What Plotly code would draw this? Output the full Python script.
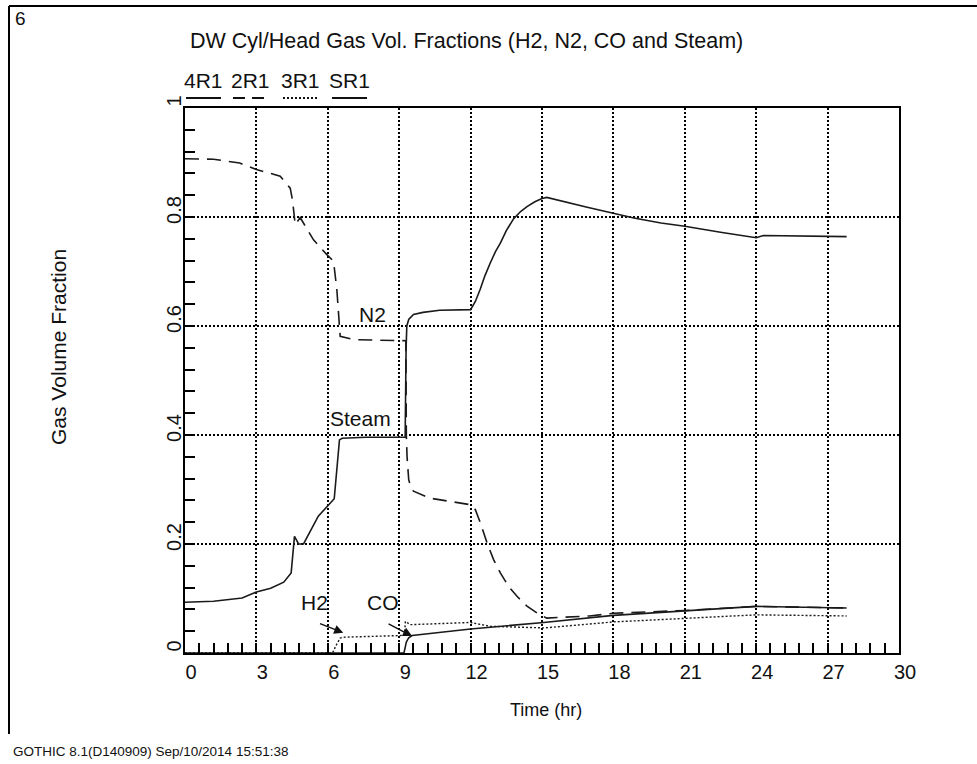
import plotly.graph_objects as go

# ---- GOTHIC results: gas volume fractions in the drywell cylinder/head ----
# Steam (4R1)
steam_time = [0.0, 1.2, 2.4, 3.0, 3.6, 4.15, 4.46, 4.6, 4.77, 4.98, 5.6, 6.27, 6.49, 6.6, 7.6,
              9.25, 9.29, 9.32, 9.4, 9.6, 10.0, 10.7, 12.0, 12.2, 12.4, 12.6, 12.83, 13.05, 13.25,
              13.5, 13.81, 14.1, 14.37, 14.7, 15.0, 15.2, 16.9, 18.0, 18.86, 20.0, 21.0, 22.5,
              24.0, 24.3, 27.8]
steam_frac = [0.093, 0.095, 0.101, 0.112, 0.119, 0.130, 0.147, 0.214, 0.200, 0.200, 0.251, 0.283,
              0.391, 0.394, 0.396, 0.396, 0.560, 0.600, 0.612, 0.621, 0.625, 0.629, 0.630, 0.645,
              0.667, 0.692, 0.716, 0.737, 0.752, 0.775, 0.797, 0.810, 0.819, 0.828, 0.834, 0.836,
              0.818, 0.806, 0.798, 0.789, 0.783, 0.772, 0.762, 0.766, 0.764]

# N2 (2R1)
n2_time = [0.0, 1.2, 2.3, 3.0, 4.0, 4.42, 4.52, 4.58, 4.63, 4.84, 5.4, 5.96, 6.24, 6.38, 6.45,
           6.52, 7.1, 9.2, 9.28, 9.3, 9.33, 9.4, 9.5, 9.6, 10.3, 12.0, 12.2, 12.41, 12.69, 12.97,
           13.25, 13.6, 13.95, 14.37, 14.8, 15.2, 17.0, 18.0, 21.0, 24.0, 27.8]
n2_frac = [0.907, 0.906, 0.899, 0.887, 0.875, 0.853, 0.830, 0.800, 0.786, 0.799, 0.758, 0.731,
           0.719, 0.667, 0.612, 0.581, 0.575, 0.573, 0.573, 0.400, 0.360, 0.318, 0.303, 0.297,
           0.284, 0.272, 0.263, 0.239, 0.202, 0.171, 0.147, 0.122, 0.104, 0.086, 0.073, 0.064,
           0.068, 0.073, 0.078, 0.0855, 0.0826]

# H2 (3R1)
h2_time = [0.0, 6.2, 6.35, 6.52, 6.66, 9.05, 9.22, 9.26, 9.47, 12.0, 12.83, 15.1, 18.0, 21.0,
           24.0, 27.8]
h2_frac = [0.0, 0.0, 0.014, 0.0275, 0.029, 0.032, 0.034, 0.058, 0.052, 0.056, 0.049, 0.046,
           0.057, 0.063, 0.070, 0.068]

# CO (SR1)
co_time = [0.0, 9.2, 9.25, 9.3, 9.4, 9.54, 12.0, 15.07, 18.0, 21.0, 24.0, 27.8]
co_frac = [0.0, 0.0, 0.010, 0.020, 0.028, 0.032, 0.044, 0.056, 0.069, 0.0776, 0.0855, 0.0826]

series_names = ["4R1", "2R1", "3R1", "SR1"]
curve_labels = ["Steam", "N2", "H2", "CO"]

x_ticks = [0, 3, 6, 9, 12, 15, 18, 21, 24, 27, 30]
y_ticks = [0, 0.2, 0.4, 0.6, 0.8, 1.0]

title_text = "DW Cyl/Head Gas Vol. Fractions (H2, N2, CO and Steam)"
x_title = "Time (hr)"
y_title = "Gas Volume Fraction"
page_no = "6"
footer_text = "GOTHIC 8.1(D140909) Sep/10/2014 15:51:38"

# ---- page geometry (pixels) ----
W, H = 977, 764
L, R, T, B = 185, 899, 108, 653
FONT = "Arial, 'Liberation Sans', sans-serif"
INK = "#111111"
TXT = 21


def fx(p):
    """page x pixel -> paper x"""
    return (p - L) / (R - L)


def fy(p):
    """page y pixel -> paper y"""
    return (B - p) / (B - T)


line_styles = {
    "4R1": "solid",
    "2R1": "14px,8px",
    "3R1": "2px,2px",
    "SR1": "solid",
}

fig = go.Figure()
for name, t, v in [("4R1", steam_time, steam_frac), ("2R1", n2_time, n2_frac),
                   ("3R1", h2_time, h2_frac), ("SR1", co_time, co_frac)]:
    fig.add_trace(go.Scatter(
        x=t, y=v, mode="lines", name=name, showlegend=False,
        line=dict(color="#1a1a1a", width=1.6 if name != "3R1" else 1.4,
                  dash=line_styles[name]),
    ))

axis_common = dict(
    showline=True, linecolor="black", linewidth=2, mirror=True,
    ticks="inside", ticklen=10, tickwidth=1.5, tickcolor="black",
    showgrid=True, gridcolor="black", gridwidth=1.6, griddash="2px,2px",
    zeroline=False, tickfont=dict(family=FONT, size=20, color=INK),
)

fig.update_xaxes(
    range=[0, 30], tickvals=x_ticks, ticktext=[str(v) for v in x_ticks],
    minor=dict(dtick=0.6, tick0=0, ticks="inside", ticklen=10, tickwidth=1.5,
               tickcolor="black", showgrid=False),
    ticklabelshift=6, **axis_common,
)
fig.update_yaxes(
    range=[0, 1], tickvals=y_ticks, ticktext=["0", "0.2", "0.4", "0.6", "0.8", "1"],
    tickangle=-90, ticklabelshift=-4, ticklabelstandoff=-6,
    minor=dict(dtick=0.04, tick0=0, ticks="inside", ticklen=10, tickwidth=1.5,
               tickcolor="black", showgrid=False),
    **axis_common,
)

annotations = []
shapes = []


def text(xp, yp, s, size=TXT, xanchor="center"):
    annotations.append(dict(
        xref="paper", yref="paper", x=fx(xp), y=fy(yp), text=s, showarrow=False,
        xanchor=xanchor, yanchor="middle", font=dict(family=FONT, size=size, color=INK),
    ))


# title, axis titles, page number and footer
text(466, 41, title_text, size=21.5)
text(546, 710, x_title, size=18)
annotations.append(dict(
    xref="paper", yref="paper", x=fx(58), y=fy(347), text=y_title, showarrow=False,
    textangle=-90, xanchor="center", yanchor="middle",
    font=dict(family=FONT, size=TXT, color=INK),
))
text(13, 18, page_no, size=19, xanchor="left")
text(11, 751, footer_text, size=13.5, xanchor="left")

# legend: label with a line sample underneath
legend_x = [(186, 221), (233, 268), (283, 317), (332, 367)]
legend_dash = {"4R1": "solid", "2R1": "12px,7px", "3R1": "2px,2px", "SR1": "solid"}
for name, (x0, x1) in zip(series_names, legend_x):
    text((x0 + x1) / 2, 81, name)
    shapes.append(dict(type="line", xref="paper", yref="paper",
                       x0=fx(x0), x1=fx(x1), y0=fy(98), y1=fy(98),
                       line=dict(color=INK, width=1.8, dash=legend_dash[name])))

# curve labels in data coordinates
label_pos = {"Steam": (7.36, 0.43), "N2": (7.87, 0.621), "H2": (5.46, 0.092), "CO": (8.31, 0.092)}
for lab in curve_labels:
    x, y = label_pos[lab]
    annotations.append(dict(x=x, y=y, xref="x", yref="y", text=lab, showarrow=False,
                            font=dict(family=FONT, size=TXT, color=INK)))

# pointer arrows for H2 and CO
for (tip, tail) in [((6.65, 0.037), (5.61, 0.055)), ((9.54, 0.031), (8.49, 0.055))]:
    annotations.append(dict(
        x=tip[0], y=tip[1], ax=tail[0], ay=tail[1], xref="x", yref="y",
        axref="x", ayref="y", text="", showarrow=True, arrowhead=2, arrowsize=1.3,
        arrowwidth=1.4, arrowcolor=INK,
    ))

# page frame (top and left edges)
shapes.append(dict(type="line", xref="paper", yref="paper", x0=fx(9), x1=fx(W + 5),
                   y0=fy(6), y1=fy(6), line=dict(color="black", width=2)))
shapes.append(dict(type="line", xref="paper", yref="paper", x0=fx(9), x1=fx(9),
                   y0=fy(6), y1=fy(734), line=dict(color="black", width=2)))

fig.update_layout(
    width=W, height=H, autosize=False,
    margin=dict(l=L, r=W - R, t=T, b=H - B, pad=0),
    paper_bgcolor="white", plot_bgcolor="white",
    annotations=annotations, shapes=shapes,
    font=dict(family=FONT, size=TXT, color=INK),
)

fig.write_html("out.html")
